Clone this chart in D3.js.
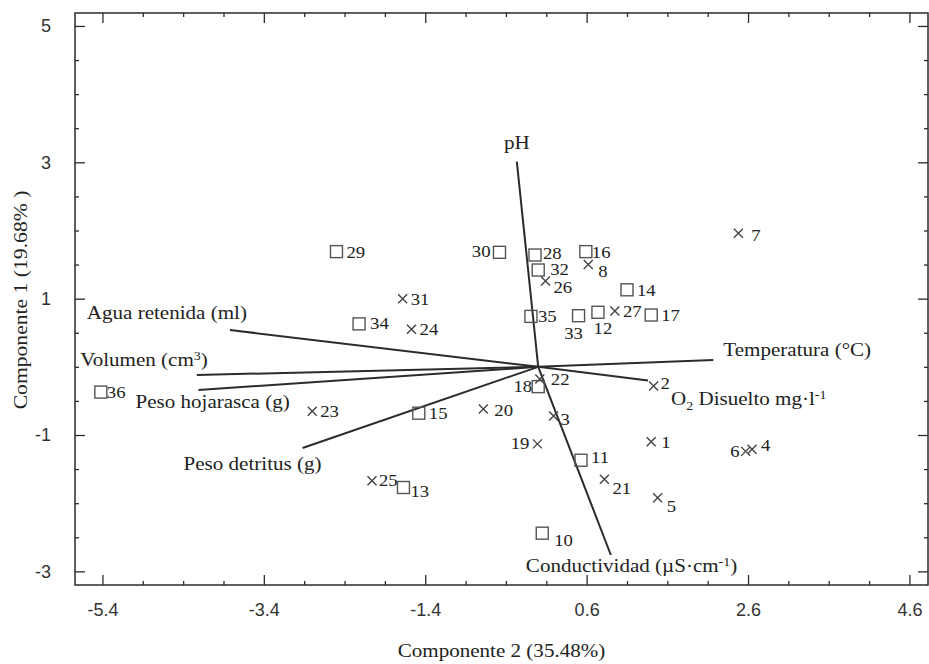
<!DOCTYPE html>
<html>
<head>
<meta charset="utf-8">
<script src="https://cdn.jsdelivr.net/npm/d3@7"></script>
<style>
  body { margin: 0; background: #fff; }
</style>
</head>
<body>
<div id="chart"></div>
<script>

// sample scores (Componente 2 on x, Componente 1 on y)
var ids    = [1, 2, 3, 4, 5, 6, 7, 8, 10, 11, 12, 13, 14, 15, 16, 17, 18,
              19, 20, 21, 22, 23, 24, 25, 26, 27, 28, 29, 30, 31, 32, 33, 34, 35, 36];
var comp2  = [1.40, 1.43, 0.19, 2.65, 1.48, 2.57, 2.48, 0.62, 0.05, 0.53, 0.74, -1.67, 1.10, -1.48, 0.59, 1.40, 0.00,
              -0.01, -0.68, 0.82, 0.02, -2.80, -1.57, -2.06, 0.09, 0.95, -0.04, -2.50, -0.48, -1.68, 0.00, 0.50, -2.22, -0.09, -5.42];
var comp1  = [-1.10, -0.28, -0.72, -1.21, -1.92, -1.24, 1.96, 1.50, -2.44, -1.37, 0.80, -1.77, 1.13, -0.68, 1.69, 0.76, -0.29,
              -1.13, -0.62, -1.65, -0.18, -0.65, 0.55, -1.67, 1.26, 0.82, 1.64, 1.69, 1.68, 1.00, 1.42, 0.75, 0.63, 0.74, -0.37];
var marker = ["x", "x", "x", "x", "x", "x", "x", "x", "s", "s", "s", "s", "s", "s", "s", "s", "s",
              "x", "x", "x", "x", "x", "x", "x", "x", "x", "s", "s", "s", "x", "s", "s", "s", "s", "s"];

// variable loadings (vectors from the origin)
var varKeys  = ["ph", "cond", "temp", "o2", "agua", "vol", "hoja", "detr"];
var varComp2 = [-0.265, 0.90, 2.17, 1.36, -3.82, -4.23, -4.21, -2.92];
var varComp1 = [3.01, -2.76, 0.10, -0.20, 0.54, -0.12, -0.34, -1.19];

// axis ticks
var xTicks = [-5.4, -3.4, -1.4, 0.6, 2.6, 4.6];
var yTicks = [-3, -1, 1, 3, 5];

// --------------------------------------------------------

var chart_width  = 929;
var chart_height = 664;
var box = { left: 75, right: 928, top: 13, bottom: 585 };
var ink = "#2b2b2b";
var serif = "'Liberation Serif', 'Times New Roman', serif";
var stretch = 1.17;

var svg = d3.select("#chart")
	.append("svg")
	.attr("width", chart_width)
	.attr("height", chart_height);

var x = d3.scaleLinear().domain([-5.74, 4.83]).range([box.left, box.right]);
var y = d3.scaleLinear().domain([-3.2, 5.19]).range([box.bottom, box.top]);

// minor ticks every 0.5
var xMinor = d3.range(-5.4, 4.85, 0.5).filter((d) => {
	return xTicks.every((t) => Math.abs(t - d) > 0.01) && d > -5.74 && d < 4.83;
});
var yMinor = d3.range(-3, 5.1, 0.5).filter((d) => yTicks.indexOf(d) < 0);

// --------------------------------------------------------
// axes on all four sides, ticks pointing in

function addAxis(axis, tx, ty) {
	var g = svg.append("g")
		.attr("transform", "translate(" + tx + "," + ty + ")")
		.call(axis);
	g.select(".domain").remove();
	g.selectAll("line").attr("stroke", ink).attr("stroke-width", 1.3);
	g.selectAll("text")
		.attr("fill", "#333")
		.style("font-family", "'Liberation Sans', Arial, sans-serif")
		.style("font-size", "18px");
	return g;
}

var fmt = (d) => String(d);

addAxis(d3.axisBottom(x).tickValues(xTicks).tickSize(-10).tickPadding(18).tickFormat(fmt), 0, box.bottom);
addAxis(d3.axisBottom(x).tickValues(xMinor).tickSize(-4).tickFormat(""), 0, box.bottom);
addAxis(d3.axisTop(x).tickValues(xTicks).tickSize(-10).tickFormat(""), 0, box.top);
addAxis(d3.axisTop(x).tickValues(xMinor).tickSize(-4).tickFormat(""), 0, box.top);
addAxis(d3.axisLeft(y).tickValues(yTicks).tickSize(-10).tickPadding(24).tickFormat(fmt), box.left, 0);
addAxis(d3.axisLeft(y).tickValues(yMinor).tickSize(-4).tickFormat(""), box.left, 0);
addAxis(d3.axisRight(y).tickValues(yTicks).tickSize(-10).tickFormat(""), box.right, 0);
addAxis(d3.axisRight(y).tickValues(yMinor).tickSize(-4).tickFormat(""), box.right, 0);

svg.append("rect")
	.attr("x", box.left)
	.attr("y", box.top)
	.attr("width", box.right - box.left)
	.attr("height", box.bottom - box.top)
	.attr("fill", "none")
	.attr("stroke", ink)
	.attr("stroke-width", 1.5);

// --------------------------------------------------------
// serif text, slightly widened like the original scan

function serifText(px, py, anchor, size, rotate) {
	return svg.append("text")
		.attr("transform", "translate(" + px + "," + py + ")" + (rotate ? " rotate(-90)" : "") + " scale(" + stretch + ",1)")
		.attr("text-anchor", anchor)
		.attr("fill", "#222")
		.style("font-family", serif)
		.style("font-size", size + "px");
}

serifText((box.left + box.right) / 2, 657, "middle", 18).text("Componente 2 (35.48%)");
serifText(27, 300, "middle", 18.5, true).text("Componente 1 (19.68% )");

// --------------------------------------------------------
// variable vectors

svg.selectAll("line.vec")
	.data(varKeys)
	.enter()
	.append("line")
	.attr("class", "vec")
	.attr("x1", x(0))
	.attr("y1", y(0))
	.attr("x2", (d, i) => x(varComp2[i]))
	.attr("y2", (d, i) => y(varComp1[i]))
	.attr("stroke", ink)
	.attr("stroke-width", 2);

// label placement relative to the vector tip
var varLabel = {
	ph:   { dx: 0,    dy: -13, a: "middle" },
	cond: { dx: -85,  dy: 17,  a: "start" },
	temp: { dx: 10,   dy: -4,  a: "start" },
	o2:   { dx: 23,   dy: 25,  a: "start" },
	agua: { dx: 17,   dy: -11, a: "end" },
	vol:  { dx: 11,   dy: -9,  a: "end" },
	hoja: { dx: -63,  dy: 18,  a: "start" },
	detr: { dx: -119, dy: 22,  a: "start" }
};

function sup(t, s) { t.append("tspan").attr("dy", -6).style("font-size", "12px").text(s); }

varKeys.forEach((k, i) => {
	var p = varLabel[k];
	var t = serifText(x(varComp2[i]) + p.dx, y(varComp1[i]) + p.dy, p.a, 18);
	if (k === "ph") t.text("pH");
	if (k === "temp") t.text("Temperatura (°C)");
	if (k === "agua") t.text("Agua retenida (ml)");
	if (k === "hoja") t.text("Peso hojarasca (g)");
	if (k === "detr") t.text("Peso detritus (g)");
	if (k === "vol") {
		t.append("tspan").text("Volumen (cm");
		sup(t, "3");
		t.append("tspan").attr("dy", 6).text(")");
	}
	if (k === "o2") {
		t.append("tspan").text("O");
		t.append("tspan").attr("dy", 5).style("font-size", "12px").text("2");
		t.append("tspan").attr("dy", -5).text(" Disuelto mg·l");
		sup(t, "-1");
	}
	if (k === "cond") {
		t.append("tspan").text("Conductividad (µS·cm");
		sup(t, "-1");
		t.append("tspan").attr("dy", 6).text(")");
	}
});

// --------------------------------------------------------
// sample markers

var pts = svg.selectAll("g.pt")
	.data(ids)
	.enter()
	.append("g")
	.attr("class", "pt")
	.attr("transform", (d, i) => "translate(" + x(comp2[i]) + "," + y(comp1[i]) + ")");

pts.filter((d, i) => marker[i] === "s")
	.append("rect")
	.attr("x", -6).attr("y", -6)
	.attr("width", 12).attr("height", 12)
	.attr("fill", "none")
	.attr("stroke", "#555")
	.attr("stroke-width", 1.4);

pts.filter((d, i) => marker[i] === "x")
	.append("path")
	.attr("d", "M-4.5,-4.5L4.5,4.5M-4.5,4.5L4.5,-4.5")
	.attr("fill", "none")
	.attr("stroke", "#444")
	.attr("stroke-width", 1.4);

// label offsets per sample (default: right of marker)
var lab = {
	30: [-9, 5, "end"], 33: [-5, 23, "middle"], 12: [5, 22, "middle"], 18: [-6, 5, "end"],
	19: [-8, 5, "end"], 6: [-6, 6, "end"], 4: [9, 2], 21: [8, 15], 5: [9, 14],
	25: [7, 5], 13: [7, 9], 10: [12, 13], 11: [10, 3], 8: [10, 12], 28: [8, 4],
	32: [12, 5], 26: [8, 12], 35: [7, 6], 16: [6, 6], 7: [13, 8], 36: [6, 6],
	34: [11, 5], 22: [11, 6], 20: [11, 7], 3: [7, 9], 1: [10, 6], 2: [7, 3]
};

pts.each(function (d, i) {
	var o = lab[d] || [marker[i] === "s" ? 10 : 8, 6, "start"];
	d3.select(this).append("text")
		.attr("transform", "translate(" + o[0] + "," + o[1] + ") scale(" + stretch + ",1)")
		.attr("text-anchor", o[2] || "start")
		.attr("fill", "#222")
		.style("font-family", serif)
		.style("font-size", "16px")
		.text(d);
});

</script>
</body>
</html>
